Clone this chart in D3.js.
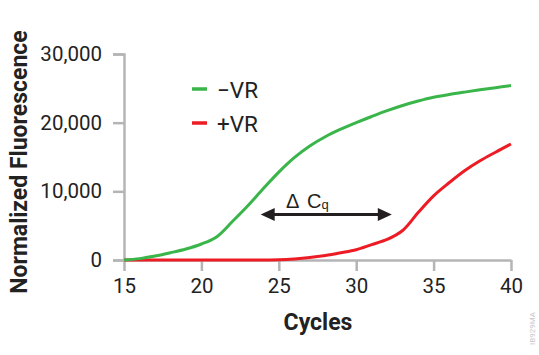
<!DOCTYPE html>
<html>
<head>
<meta charset="utf-8">
<script src="https://cdn.jsdelivr.net/npm/d3@7"></script>
<style>
  body { margin: 0; background: #fff; }
  svg text { font-family: Roboto, "Liberation Sans", sans-serif; }
</style>
</head>
<body>
<div id="chart"></div>
<script>
var width = 539;
var height = 355;

// data
var cycles = [15,16,17,18,19,20,21,22,23,24,25,26,27,28,29,30,31,32,33,34,35,36,37,38,39,40];
var minusVR = [0,200,580,1060,1600,2330,3400,5600,7900,10400,12800,14900,16600,17950,19050,20000,20900,21750,22500,23150,23700,24100,24450,24780,25100,25400];
var plusVR = [0,0,0,0,0,0,0,0,0,0,30,150,350,650,1050,1500,2250,3000,4300,6900,9350,11250,13000,14450,15700,16900];
var xTicks = [15,20,25,30,35,40];
var yTicks = [0,10000,20000,30000];
var deltaCq = [23.83, 32.3]; // arrow ends, in cycles
var deltaY = 6700;

var x = d3.scaleLinear().domain([15, 40]).range([124, 511]);
var y = d3.scaleLinear().domain([0, 30000]).range([260, 54]);

var svg = d3.select("#chart")
    .append("svg")
    .attr("width", width)
    .attr("height", height);

var axisColor = "#b5b5b5";

// y axis
var yAxis = svg.append("g")
    .attr("transform", "translate(124,0)")
    .call(d3.axisLeft(y).tickValues(yTicks).tickSize(11).tickPadding(11).tickFormat(d3.format(",")));
yAxis.select(".domain").attr("stroke", axisColor).attr("stroke-width", 2.5);
yAxis.selectAll(".tick line").attr("stroke", axisColor).attr("stroke-width", 2.5);
yAxis.selectAll(".tick text").attr("font-size", "20.5px").attr("fill", "#222")
    .style("font-family", "Roboto, sans-serif");

// x axis
var xAxis = svg.append("g")
    .attr("transform", "translate(0,260)")
    .call(d3.axisBottom(x).tickValues(xTicks).tickSize(11).tickPadding(7).tickSizeOuter(0));
xAxis.select(".domain").attr("stroke", axisColor).attr("stroke-width", 2.5);
xAxis.selectAll(".tick line").attr("stroke", axisColor).attr("stroke-width", 2.5);
xAxis.selectAll(".tick text").attr("font-size", "20.5px").attr("fill", "#222")
    .style("font-family", "Roboto, sans-serif");

// axis titles
svg.append("text")
    .attr("x", 318)
    .attr("y", 330)
    .attr("text-anchor", "middle")
    .attr("font-size", "23px")
    .attr("font-weight", "bold")
    .attr("fill", "#222")
    .text("Cycles");

svg.append("text")
    .attr("transform", "translate(27,162) rotate(-90)")
    .attr("text-anchor", "middle")
    .attr("font-size", "23px")
    .attr("font-weight", "bold")
    .attr("fill", "#222")
    .text("Normalized Fluorescence");

// curves
var line = d3.line()
    .x(function(d){ return x(d[0]); })
    .y(function(d){ return y(d[1]); })
    .curve(d3.curveCatmullRom.alpha(0.5));

svg.append("path")
    .datum(cycles.map(function(c, i){ return [c, plusVR[i]]; }))
    .attr("d", line)
    .attr("fill", "none")
    .attr("stroke", "#ed1c24")
    .attr("stroke-width", 3);

svg.append("path")
    .datum(cycles.map(function(c, i){ return [c, minusVR[i]]; }))
    .attr("d", line)
    .attr("fill", "none")
    .attr("stroke", "#39b54a")
    .attr("stroke-width", 3);

// legend
var legend = [
    {label: "\u2212VR", color: "#39b54a", y: 89, ty: 98},
    {label: "+VR", color: "#ed1c24", y: 123, ty: 132}
];
legend.forEach(function(l){
    svg.append("line")
        .attr("x1", 192).attr("x2", 207)
        .attr("y1", l.y).attr("y2", l.y)
        .attr("stroke", l.color)
        .attr("stroke-width", 3.5);
    svg.append("text")
        .attr("x", 217)
        .attr("y", l.ty)
        .attr("font-size", "22.5px")
        .attr("fill", "#222")
        .text(l.label);
});

// delta Cq arrow
var ax1 = x(deltaCq[0]), ax2 = x(deltaCq[1]), ay = y(deltaY) + 0.5;
svg.append("line")
    .attr("x1", ax1 + 10).attr("x2", ax2 - 10)
    .attr("y1", ay).attr("y2", ay)
    .attr("stroke", "#231f20")
    .attr("stroke-width", 3.2);
svg.append("path")
    .attr("d", "M" + ax1 + "," + ay + "L" + (ax1 + 14) + "," + (ay - 6.5) + "L" + (ax1 + 14) + "," + (ay + 6.5) + "Z")
    .attr("fill", "#231f20");
svg.append("path")
    .attr("d", "M" + ax2 + "," + ay + "L" + (ax2 - 14) + "," + (ay - 6.5) + "L" + (ax2 - 14) + "," + (ay + 6.5) + "Z")
    .attr("fill", "#231f20");

var dlabel = svg.append("text")
    .attr("y", 208)
    .attr("font-size", "20px")
    .attr("fill", "#231f20")
    .style("font-family", "'Liberation Sans', Arial, sans-serif");
dlabel.append("tspan").attr("x", 286).text("\u0394");
dlabel.append("tspan").attr("x", 307).text("C");
dlabel.append("tspan").attr("font-size", "13px").attr("dy", 1).text("q");

// watermark
svg.append("text")
    .attr("transform", "translate(535,345) rotate(-90)")
    .attr("font-size", "8px")
    .attr("fill", "#c8c8c8")
    .text("IB929MA");
</script>
</body>
</html>
